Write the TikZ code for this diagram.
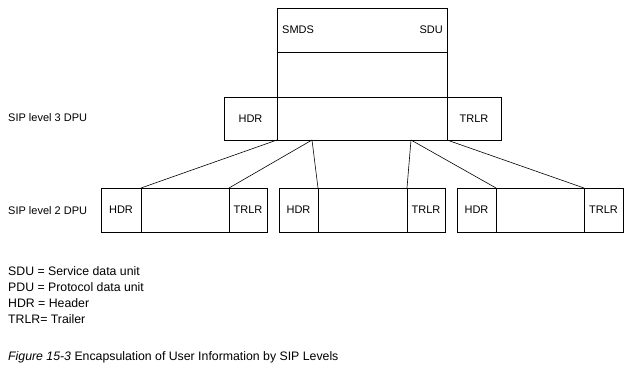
\documentclass[tikz,border=0pt]{standalone}
\usepackage{fontspec}
\setmainfont{Liberation Sans}
\begin{document}
\begin{tikzpicture}[x=1pt,y=-1pt,
  cell/.style={draw, line width=0.8pt, inner sep=0pt, outer sep=0pt, anchor=north west, font=\fontsize{11}{13}\selectfont},
  lbl/.style={inner sep=0pt, font=\fontsize{11}{13}\selectfont},
  leg/.style={inner sep=0pt, anchor=west, font=\fontsize{12.3}{14}\selectfont},
  conn/.style={line width=0.6pt}]
\useasboundingbox[fill=white] (0,0) rectangle (634,369);
% SDU
\node[cell, minimum width=170, minimum height=44] (sdut) at (277,8) {};
\node[cell, minimum width=170, minimum height=45] (sdub) at (277,52) {};
\node[lbl, anchor=west] (smds) at (282,30) {SMDS};
\node[lbl, anchor=east] (sdu) at (443,30) {SDU};
% level 3
\node[cell, minimum width=53, minimum height=43] (h3) at (224,97) {HDR};
\node[cell, minimum width=170, minimum height=43] (m3) at (277,97) {};
\node[cell, minimum width=54, minimum height=43] (t3) at (447,97) {TRLR};
\node[lbl, anchor=west] (l3) at (8,118) {SIP level 3 DPU};
% level 2
\node[cell, minimum width=40, minimum height=44] (h2a) at (101,188) {HDR};
\node[cell, minimum width=88, minimum height=44] (m2a) at (141,188) {};
\node[cell, minimum width=38, minimum height=44] (t2a) at (229,188) {TRLR};
\node[cell, minimum width=39, minimum height=44] (h2b) at (279,188) {HDR};
\node[cell, minimum width=89, minimum height=44] (m2b) at (318,188) {};
\node[cell, minimum width=38, minimum height=44] (t2b) at (407,188) {TRLR};
\node[cell, minimum width=39, minimum height=44] (h2c) at (457,188) {HDR};
\node[cell, minimum width=88, minimum height=44] (m2c) at (496,188) {};
\node[cell, minimum width=39, minimum height=44] (t2c) at (584,188) {TRLR};
\node[lbl, anchor=west] (l2) at (8,211) {SIP level 2 DPU};
% connectors
\coordinate (s1) at (312,140);
\coordinate (s2) at (411,140);
\draw[conn] (m3.south west) -- (m2a.north west);
\draw[conn] (s1) -- (t2a.north west);
\draw[conn] (s1) -- (m2b.north west);
\draw[conn] (s2) -- (t2b.north west);
\draw[conn] (s2) -- (m2c.north west);
\draw[conn] (m3.south east) -- (t2c.north west);
% legend
\node[leg] (g1) at (8,271) {SDU = Service data unit};
\node[leg] (g2) at (8,287) {PDU = Protocol data unit};
\node[leg] (g3) at (8,303) {HDR = Header};
\node[leg] (g4) at (8,319) {TRLR= Trailer};
\node[leg] (cap) at (8,357) {\textit{Figure 15-3} Encapsulation of User Information by SIP Levels};
\end{tikzpicture}
\end{document}
